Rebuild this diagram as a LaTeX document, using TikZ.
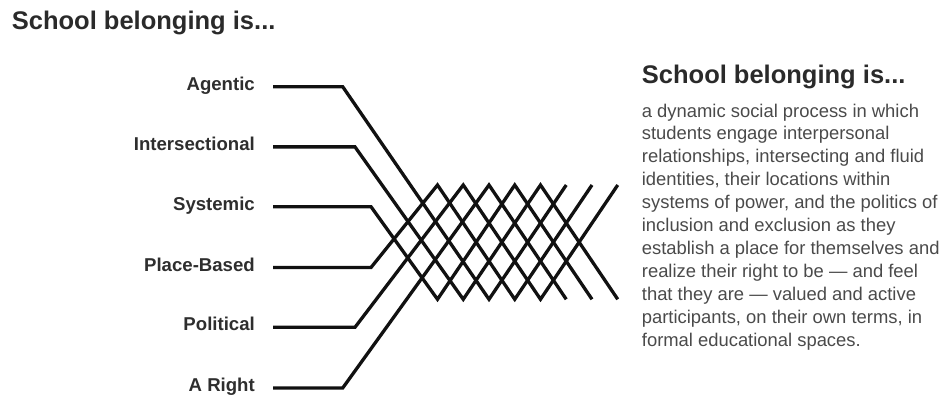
\documentclass[tikz,border=0pt]{standalone}
\usepackage{fontspec}
\setmainfont{Liberation Sans}
\definecolor{ink}{HTML}{111111}
\definecolor{labc}{HTML}{2E2E2E}
\definecolor{ttlc}{HTML}{2A2A2A}
\definecolor{bodyc}{HTML}{4A4A4A}
\begin{document}
\begin{tikzpicture}[x=1pt,y=-1pt,
  wire/.style={draw=ink, line width=3.3pt, line join=miter, line cap=butt},
  lab/.style={font=\fontsize{18.6}{22}\selectfont\bfseries, text=labc, anchor=base east, inner sep=0pt},
  ttl/.style={font=\fontsize{25.5}{30}\selectfont\bfseries, text=ttlc, anchor=base west, inner sep=0pt},
  bodytxt/.style={font=\fontsize{18.4}{22.9}\selectfont, text=bodyc, align=left, anchor=north west, inner sep=0pt}]
\useasboundingbox (0,0) rectangle (946,395);
% titles and definition
\node[ttl] (title) at (11.7,29.3) {School belonging is...};
\node[ttl] (title2) at (641.7,83.3) {School belonging is...};
\node[bodytxt] (def) at (641.7,103.5) {a dynamic social process in which\\
students engage interpersonal\\
relationships, intersecting and fluid\\
identities, their locations within\\
systems of power, and the politics of\\
inclusion and exclusion as they\\
establish a place for themselves and\\
realize their right to be — and feel\\
that they are — valued and active\\
participants, on their own terms, in\\
formal educational spaces.};
% labels
\node[lab] (agentic) at (255,91) {Agentic};
\node[lab] (inter) at (255,150.7) {Intersectional};
\node[lab] (systemic) at (255,210.7) {Systemic};
\node[lab] (place) at (255,271.3) {Place-Based};
\node[lab] (political) at (255,331) {Political};
\node[lab] (right) at (255,391.7) {A Right};
% line starts
\coordinate (s1) at (273,86.7);
\coordinate (s2) at (273,146.9);
\coordinate (s3) at (273,206.7);
\coordinate (s4) at (273,267.5);
\coordinate (s5) at (273,327.3);
\coordinate (s6) at (273,388);
% corners
\coordinate (c1) at (342.7,86.7);
\coordinate (c2) at (355,146.9);
\coordinate (c3) at (371,206.7);
\coordinate (c4) at (371,267.5);
\coordinate (c5) at (355,327.3);
\coordinate (c6) at (342.7,388);
% lattice points
\foreach \k in {0,...,7}{
  \coordinate (t\k) at ({437.5+25.75*\k},185);
  \coordinate (b\k) at ({437.5+25.75*\k},299.3);
}
\draw[wire] (s1) -- (c1) -- (b2) -- (t5);
\draw[wire] (s2) -- (c2) -- (b1) -- (t4) -- (b7);
\draw[wire] (s3) -- (c3) -- (b0) -- (t3) -- (b6);
\draw[wire] (s4) -- (c4) -- (t0) -- (b3) -- (t6);
\draw[wire] (s5) -- (c5) -- (t1) -- (b4) -- (t7);
\draw[wire] (s6) -- (c6) -- (t2) -- (b5);
\end{tikzpicture}
\end{document}
